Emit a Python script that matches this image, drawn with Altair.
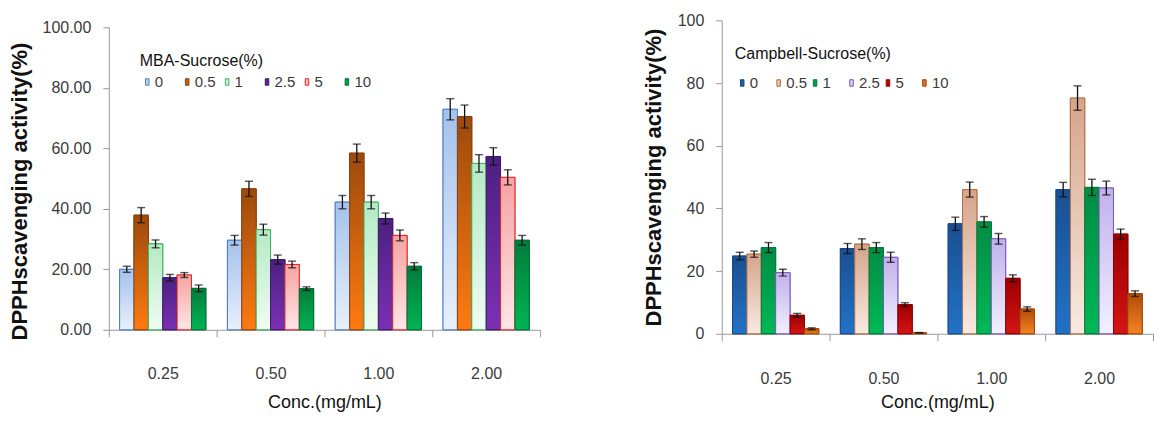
import altair as alt
import pandas as pd

conc_labels = ["0.25", "0.50", "1.00", "2.00"]
sucrose_levels = ["0", "0.5", "1", "2.5", "5", "10"]

# MBA-Sucrose(%) means by concentration
mba_0 = [20.0, 29.6, 42.2, 72.9]
mba_05 = [37.9, 46.6, 58.4, 70.5]
mba_1 = [28.4, 33.1, 42.2, 55.0]
mba_25 = [17.2, 23.2, 36.8, 57.3]
mba_5 = [18.1, 21.6, 31.2, 50.4]
mba_10 = [13.7, 13.6, 21.0, 29.6]
# MBA-Sucrose(%) error bars
mba_err_0 = [1.0, 1.6, 2.2, 3.5]
mba_err_05 = [2.5, 2.5, 3.0, 3.8]
mba_err_1 = [1.3, 1.8, 2.2, 2.9]
mba_err_25 = [1.1, 1.5, 1.8, 2.9]
mba_err_5 = [0.8, 1.1, 1.8, 2.5]
mba_err_10 = [1.1, 0.6, 1.2, 1.6]

# Campbell-Sucrose(%) means by concentration
camp_0 = [24.8, 27.2, 35.1, 46.0]
camp_05 = [25.4, 28.6, 46.0, 75.2]
camp_1 = [27.5, 27.5, 35.7, 46.7]
camp_25 = [19.5, 24.4, 30.3, 46.5]
camp_5 = [5.9, 9.3, 17.7, 31.8]
camp_10 = [1.6, 0.3, 7.9, 12.8]
# Campbell-Sucrose(%) error bars
camp_err_0 = [1.2, 1.6, 2.1, 2.3]
camp_err_05 = [1.0, 1.7, 2.4, 3.9]
camp_err_1 = [1.6, 1.6, 1.7, 2.6]
camp_err_25 = [1.1, 1.6, 1.7, 2.2]
camp_err_5 = [0.6, 0.6, 1.1, 1.6]
camp_err_10 = [0.3, 0.1, 0.7, 0.9]

# styles
mba_top = ["#a4c2ec", "#9c4a0c", "#b4eac4", "#4c2080", "#f6a2a2", "#007c3c"]
mba_bottom = ["#e8f0fb", "#ff7a10", "#effcf2", "#7c30b4", "#ffe6e6", "#00b452"]
mba_stroke = ["#4f7fc0", "#8a4010", "#3cb060", "#3c1a6c", "#e02828", "#007038"]
mba_sym = ["#bcd3f2", "#c8600a", "#cdf2d8", "#5a2590", "#f9bcbc", "#00a050"]

camp_top = ["#1a4f90", "#d6a48a", "#008c44", "#c0b0ec", "#9c0000", "#b04c08"]
camp_bottom = ["#2272c8", "#f8eae2", "#00b856", "#f2f0fe", "#d41414", "#f48424"]
camp_stroke = ["#1a4a88", "#b07048", "#007a3a", "#7858b8", "#8c0000", "#a04808"]
camp_sym = ["#1f5ca8", "#e8c6b2", "#00a050", "#dcd4f4", "#c00000", "#e07020"]

FONT = "Liberation Sans, Arial, sans-serif"


def build(series, errs):
    rows = []
    for lv, vals, es in zip(sucrose_levels, series, errs):
        for c, v, e in zip(conc_labels, vals, es):
            rows.append(dict(conc=c, level=lv, value=v, lo=v - e, hi=v + e))
    return pd.DataFrame(rows)


def panel(df, tops, bottoms, strokes, sym, legend_title, width, height, yfmt,
          title_y, y_title_pad, x_label_pad, x_title_pad, lx, ly, ltp, lpad):
    x_axis = alt.Axis(title="Conc.(mg/mL)", labelAngle=0, tickBand="extent", tickSize=7,
                      labelPadding=x_label_pad, titlePadding=x_title_pad,
                      labelFont=FONT, labelFontSize=16, labelColor="#3a3a3a",
                      titleFont=FONT, titleFontSize=18, titleFontWeight="normal",
                      titleColor="#111111", domainColor="#9a9a9a", tickColor="#9a9a9a")
    y_axis = alt.Axis(title="DPPHscavenging activity(%)", values=[0, 20, 40, 60, 80, 100],
                      format=yfmt, grid=False, tickSize=6, labelPadding=12,
                      titlePadding=y_title_pad, titleFont=FONT, titleFontSize=22,
                      titleFontWeight="bold", titleColor="#111111", titleY=title_y,
                      labelFont=FONT, labelFontSize=16, labelColor="#3a3a3a",
                      domainColor="#9a9a9a", tickColor="#9a9a9a")
    x = alt.X("conc:N", sort=conc_labels,
              scale=alt.Scale(domain=conc_labels, paddingInner=0, paddingOuter=0), axis=x_axis)
    xo = alt.XOffset("level:N", sort=sucrose_levels,
                     scale=alt.Scale(domain=sucrose_levels, paddingInner=0, paddingOuter=0.75))
    yscale = alt.Scale(domain=[0, 100], nice=False)
    y = alt.Y("value:Q", scale=yscale, axis=y_axis)

    legend = alt.Legend(title=legend_title, orient="none", legendX=lx, legendY=ly,
                        direction="horizontal", titleFont=FONT, titleFontSize=16,
                        titleFontWeight="normal", titleColor="#111111", labelFont=FONT,
                        labelFontSize=15, labelColor="#3a3a3a",
                        symbolType="M-0.27,-0.5H0.27V0.5H-0.27Z", symbolSize=169,
                        symbolStrokeWidth=1, columnPadding=lpad, labelOffset=0,
                        gridAlign="all", titlePadding=ltp)
    base = alt.Chart(df).mark_bar(strokeWidth=1).encode(
        x=x, xOffset=xo, y=y,
        color=alt.Color("level:N", sort=sucrose_levels,
                        scale=alt.Scale(domain=sucrose_levels, range=sym), legend=legend),
        stroke=alt.Stroke("level:N", sort=sucrose_levels,
                          scale=alt.Scale(domain=sucrose_levels, range=strokes), legend=legend),
    )
    layers = [base]
    for lv, t, b, s in zip(sucrose_levels, tops, bottoms, strokes):
        layers.append(
            alt.Chart(df).transform_filter(alt.datum.level == lv).mark_bar(
                fill=alt.Gradient(gradient="linear",
                                  stops=[alt.GradientStop(color=t, offset=0),
                                         alt.GradientStop(color=b, offset=1)],
                                  x1=0, x2=0, y1=0, y2=1),
                stroke=s, strokeWidth=1,
            ).encode(x=x, xOffset=xo, y=y)
        )
    rule = alt.Chart(df).mark_rule(color="#111111", strokeWidth=1.3).encode(
        x=x, xOffset=xo, y=alt.Y("lo:Q", scale=yscale, axis=y_axis), y2="hi:Q")
    cap_hi = alt.Chart(df).mark_tick(color="#111111", thickness=1.4, size=8).encode(
        x=x, xOffset=xo, y=alt.Y("hi:Q", scale=yscale, axis=y_axis))
    cap_lo = alt.Chart(df).mark_tick(color="#111111", thickness=1.4, size=8).encode(
        x=x, xOffset=xo, y=alt.Y("lo:Q", scale=yscale, axis=y_axis))
    layers += [rule, cap_hi, cap_lo]
    return alt.layer(*layers).properties(width=width, height=height)


mba_df = build([mba_0, mba_05, mba_1, mba_25, mba_5, mba_10],
               [mba_err_0, mba_err_05, mba_err_1, mba_err_25, mba_err_5, mba_err_10])
camp_df = build([camp_0, camp_05, camp_1, camp_25, camp_5, camp_10],
                [camp_err_0, camp_err_05, camp_err_1, camp_err_25, camp_err_5, camp_err_10])

left = panel(mba_df, mba_top, mba_bottom, mba_stroke, mba_sym, "MBA-Sucrose(%)",
             432, 303, ".2f", 164, 11, 29, 12, 31, 26, 5, 4)
right = panel(camp_df, camp_top, camp_bottom, camp_stroke, camp_sym, "Campbell-Sucrose(%)",
              432, 314, "d", 157, 12, 30, 7, 13, 26, 13, 0.5)

# small empty strip that lowers the left panel relative to the right one
spacer = alt.Chart(pd.DataFrame({"v": [0]})).mark_rule(opacity=0, strokeWidth=0).encode(
    x=alt.value(0), x2=alt.value(1), y=alt.value(0)).properties(width=432, height=1)

left_col = alt.vconcat(spacer, left, spacing=-2).resolve_legend(
    color="independent", stroke="independent")

chart = alt.concat(left_col, right, columns=2, spacing=101).resolve_scale(
    x="independent", y="independent", xOffset="independent",
    color="independent", stroke="independent",
).resolve_legend(color="independent", stroke="independent").properties(
    align="none",
    padding={"top": 4, "left": 0, "right": 0, "bottom": 0},
    background="white",
).configure_view(stroke=None)

chart.save("out.html", embed_options={"renderer": "svg", "actions": False})
